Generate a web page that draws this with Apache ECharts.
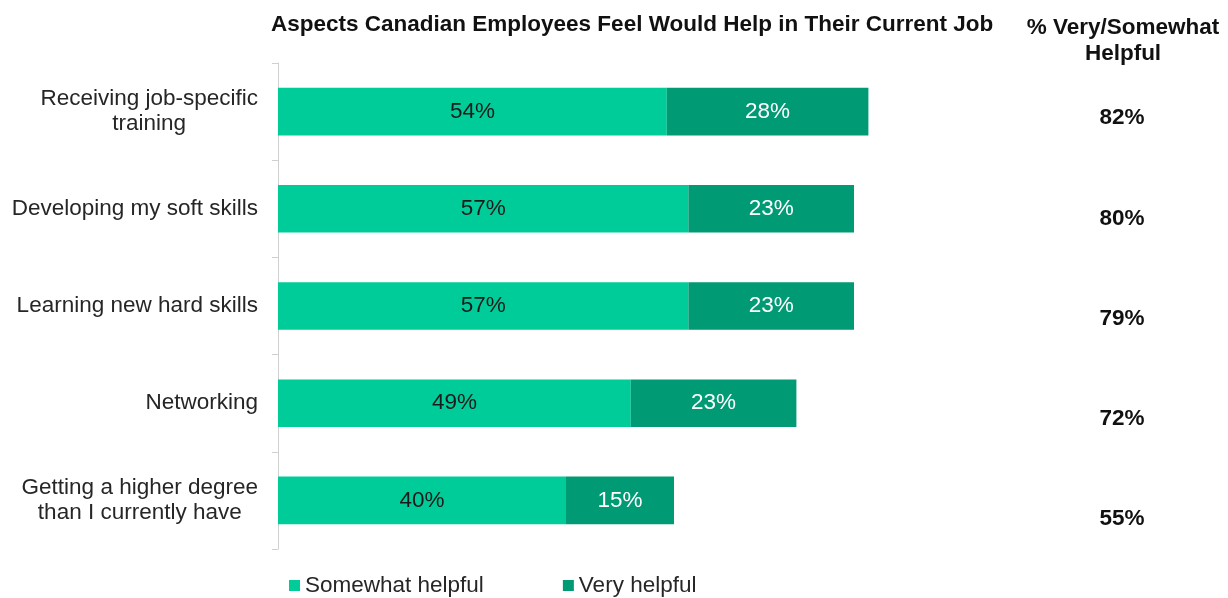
<!DOCTYPE html>
<html>
<head>
<meta charset="utf-8">
<script src="https://cdn.jsdelivr.net/npm/echarts@6/dist/echarts.min.js"></script>
<style>
	html, body {margin: 0; padding: 0; background: #fff;}
	#main {width: 1228px; height: 598px;}
</style>
</head>
<body>
<div id="main"></div>
<script>
	var categories = [
		'Receiving job-specific\ntraining',
		'Developing my soft skills',
		'Learning new hard skills',
		'Networking',
		'Getting a higher degree\nthan I currently have'
	];
	var somewhatHelpful = [54, 57, 57, 49, 40];
	var veryHelpful = [28, 23, 23, 23, 15];
	var totalHelpful = ['82%', '80%', '79%', '72%', '55%'];

	var font = 'Arial, "Liberation Sans", sans-serif';
	var size = 22.5;

	//多行标签居中
	var labelFormatter = function(value) {
		return value.split('\n').map(function(line) {
			return '{c|' + line + '}';
		}).join('\n');
	};

	var option = {
		animation: false,
		title: {
			text: 'Aspects Canadian Employees Feel Would Help in Their Current Job',
			left: 266,
			top: 8,
			textStyle: {
				fontFamily: font,
				fontSize: size,
				fontWeight: 'bold',
				color: '#111'
			}
		},
		graphic: [{
			type: 'text',
			x: 1123,
			y: 15,
			style: {
				text: '% Very/Somewhat\nHelpful',
				fontFamily: font,
				fontSize: size,
				fontWeight: 'bold',
				fill: '#111',
				align: 'center',
				lineHeight: 26
			}
		}],
		legend: {
			left: 284,
			top: 569,
			itemWidth: 11,
			itemHeight: 11,
			itemGap: 79,
			icon: 'rect',
			textStyle: {
				fontFamily: font,
				fontSize: size,
				color: '#262626'
			},
			data: ['Somewhat helpful', 'Very helpful']
		},
		grid: [{
			left: 278,
			right: 230,
			top: 63,
			bottom: 49
		}, {
			left: 1122,
			width: 1,
			top: 68,
			bottom: 29
		}],
		xAxis: [{
			gridIndex: 0,
			type: 'value',
			min: 0,
			max: 100,
			show: false
		}, {
			gridIndex: 1,
			type: 'value',
			show: false
		}],
		yAxis: [{
			gridIndex: 0,
			type: 'category',
			inverse: true,
			data: categories,
			axisLine: {
				show: true,
				lineStyle: {
					color: '#d0d0d0'
				}
			},
			axisTick: {
				show: true,
				length: 6,
				lineStyle: {
					color: '#d0d0d0'
				}
			},
			axisLabel: {
				interval: 0,
				margin: 20,
				formatter: labelFormatter,
				rich: {
					c: {
						align: 'center',
						fontFamily: font,
						fontSize: size,
						lineHeight: 25,
						color: '#262626'
					}
				}
			}
		}, {
			gridIndex: 1,
			type: 'category',
			inverse: true,
			data: totalHelpful,
			axisLine: {show: false},
			axisTick: {show: false},
			axisLabel: {
				interval: 0,
				margin: 0,
				align: 'center',
				fontFamily: font,
				fontSize: size,
				fontWeight: 'bold',
				color: '#111'
			}
		}],
		series: [{
			name: 'Somewhat helpful',
			type: 'bar',
			stack: 'total',
			barWidth: '49%',
			data: somewhatHelpful,
			itemStyle: {
				color: '#00CC9A'
			},
			label: {
				show: true,
				position: 'inside',
				formatter: '{c}%',
				fontFamily: font,
				fontSize: size,
				color: '#1a1a1a'
			}
		}, {
			name: 'Very helpful',
			type: 'bar',
			stack: 'total',
			barWidth: '49%',
			data: veryHelpful,
			itemStyle: {
				color: '#009A74'
			},
			label: {
				show: true,
				position: 'inside',
				formatter: '{c}%',
				fontFamily: font,
				fontSize: size,
				color: '#fff'
			}
		}]
	};

	var myChart = echarts.init(document.getElementById('main'));
	myChart.setOption(option, true);
</script>
</body>
</html>
